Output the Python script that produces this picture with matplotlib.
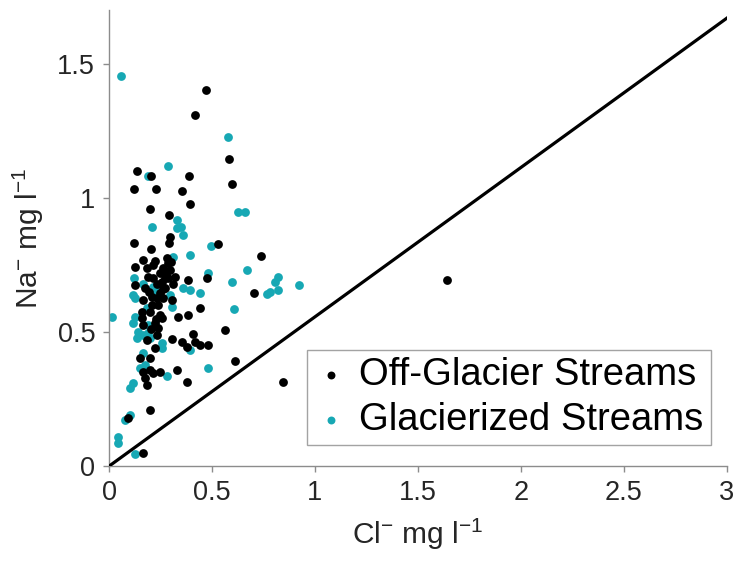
import matplotlib
matplotlib.use("Agg")
import matplotlib.pyplot as plt
import numpy as np

plt.rcParams['font.family'] = ['Liberation Sans', 'DejaVu Sans']
plt.rcParams['mathtext.fontset'] = 'custom'
plt.rcParams['mathtext.rm'] = 'Liberation Sans'
plt.rcParams['mathtext.it'] = 'Liberation Sans:italic'
plt.rcParams['mathtext.bf'] = 'Liberation Sans:bold'

# Off-glacier streams (Cl-, Na-) in mg/l
off_cl = [0.472, 0.416, 0.581, 0.134, 0.204, 0.387, 0.120, 0.228, 0.356, 0.599,
          0.393, 0.199, 0.293, 0.298, 0.123, 0.204, 0.291, 0.531, 0.167, 0.223,
          0.280, 0.288, 0.126, 0.183, 0.215, 0.264, 0.296, 0.320, 0.474, 0.385,
          0.191, 0.126, 0.175, 0.256, 0.272, 0.248, 0.167, 0.207, 0.231, 0.264,
          0.304, 0.442, 0.158, 0.199, 0.248, 0.256, 0.158, 0.167, 0.336, 0.385,
          0.223, 0.239, 0.231, 0.304, 0.352, 0.377, 0.410, 0.417, 0.442, 0.482,
          0.223, 0.150, 0.199, 0.167, 0.199, 0.215, 0.248, 0.175, 0.183, 0.328,
          0.377, 0.199, 0.094, 0.167, 0.738, 0.705, 0.563, 0.612, 0.846, 1.641,
          0.245, 0.270, 0.235, 0.285, 0.262, 0.240, 0.210, 0.230, 0.205, 0.185,
          0.300, 0.310, 0.275, 0.215, 0.195]
off_na = [1.402, 1.309, 1.144, 1.102, 1.081, 1.080, 1.035, 1.032, 1.026, 1.051,
          0.979, 0.957, 0.937, 0.856, 0.831, 0.811, 0.831, 0.827, 0.769, 0.765,
          0.775, 0.756, 0.743, 0.740, 0.750, 0.738, 0.731, 0.706, 0.700, 0.694,
          0.706, 0.675, 0.663, 0.688, 0.663, 0.644, 0.619, 0.632, 0.626, 0.626,
          0.619, 0.588, 0.576, 0.576, 0.563, 0.551, 0.551, 0.526, 0.557, 0.563,
          0.532, 0.514, 0.489, 0.474, 0.464, 0.445, 0.491, 0.464, 0.451, 0.451,
          0.439, 0.405, 0.405, 0.352, 0.358, 0.346, 0.352, 0.327, 0.302, 0.358,
          0.315, 0.211, 0.178, 0.050, 0.785, 0.645, 0.507, 0.392, 0.315, 0.694,
          0.720, 0.700, 0.680, 0.700, 0.660, 0.600, 0.600, 0.550, 0.510, 0.470,
          0.760, 0.680, 0.720, 0.700, 0.650]

# Glacierized streams (Cl-, Na-) in mg/l
gl_cl = [0.058, 0.578, 0.286, 0.188, 0.625, 0.660, 0.332, 0.351, 0.329, 0.361,
         0.207, 0.495, 0.393, 0.312, 0.482, 0.121, 0.167, 0.215, 0.223, 0.361,
         0.393, 0.442, 0.118, 0.126, 0.296, 0.304, 0.183, 0.013, 0.126, 0.118,
         0.191, 0.142, 0.134, 0.167, 0.191, 0.199, 0.256, 0.256, 0.393, 0.167,
         0.150, 0.175, 0.280, 0.482, 0.118, 0.102, 0.102, 0.078, 0.045, 0.045,
         0.126, 0.671, 0.599, 0.822, 0.806, 0.822, 0.765, 0.782, 0.924, 0.607]
gl_na = [1.455, 1.226, 1.118, 1.080, 0.948, 0.948, 0.917, 0.892, 0.887, 0.861,
         0.891, 0.821, 0.786, 0.781, 0.721, 0.703, 0.678, 0.669, 0.657, 0.663,
         0.657, 0.644, 0.638, 0.626, 0.638, 0.594, 0.588, 0.557, 0.557, 0.532,
         0.526, 0.501, 0.476, 0.489, 0.495, 0.476, 0.458, 0.439, 0.433, 0.420,
         0.364, 0.377, 0.337, 0.364, 0.309, 0.290, 0.190, 0.172, 0.109, 0.085,
         0.047, 0.731, 0.685, 0.706, 0.685, 0.657, 0.642, 0.648, 0.675, 0.586]

# seawater Na/Cl mass ratio
seawater_ratio = 0.5566
line_x = [0, 3]

teal = '#17a8b4'
axis_gray = '#8c8c8c'

fig = plt.figure(figsize=(7.37, 5.65), dpi=100)
ax = fig.add_axes([0.148, 0.175, 0.838, 0.807])

g = ax.scatter(gl_cl, gl_na, s=40, color=teal, linewidths=0, zorder=2)
o = ax.scatter(off_cl, off_na, s=40, color='black', linewidths=0, zorder=3)
ax.plot(line_x, [v * seawater_ratio for v in line_x], color='black', lw=2.3, zorder=4)

ax.set_xlim(0, 3)
ax.set_ylim(0, 1.7)
ax.set_xticks([0, 0.5, 1, 1.5, 2, 2.5, 3])
ax.set_xticklabels(['0', '0.5', '1', '1.5', '2', '2.5', '3'])
ax.set_yticks([0, 0.5, 1, 1.5])
ax.set_yticklabels(['0', '0.5', '1', '1.5'])

for side in ['top', 'right']:
    ax.spines[side].set_visible(False)
for side in ['left', 'bottom']:
    ax.spines[side].set_color(axis_gray)
    ax.spines[side].set_linewidth(1.0)
ax.tick_params(direction='out', length=4, width=1, color=axis_gray,
               labelsize=19.5, labelcolor='#262626', pad=6)

ax.set_xlabel('Cl$^{-}$ mg l$^{-1}$', fontsize=21.5, color='#262626', labelpad=8)
ax.set_ylabel('Na$^{-}$ mg l$^{-1}$', fontsize=21.5, color='#262626', labelpad=8)

leg = ax.legend([o, g], ['Off-Glacier Streams', 'Glacierized Streams'],
                loc='lower left', bbox_to_anchor=(0.32, 0.046),
                fontsize=27.5, frameon=True, fancybox=False,
                handlelength=0.9, handletextpad=0.3, borderpad=0.18,
                labelspacing=0.25, markerscale=0.9, borderaxespad=0)
leg.get_frame().set_edgecolor(axis_gray)
leg.get_frame().set_linewidth(1.0)

fig.savefig('out.png', dpi=100)
